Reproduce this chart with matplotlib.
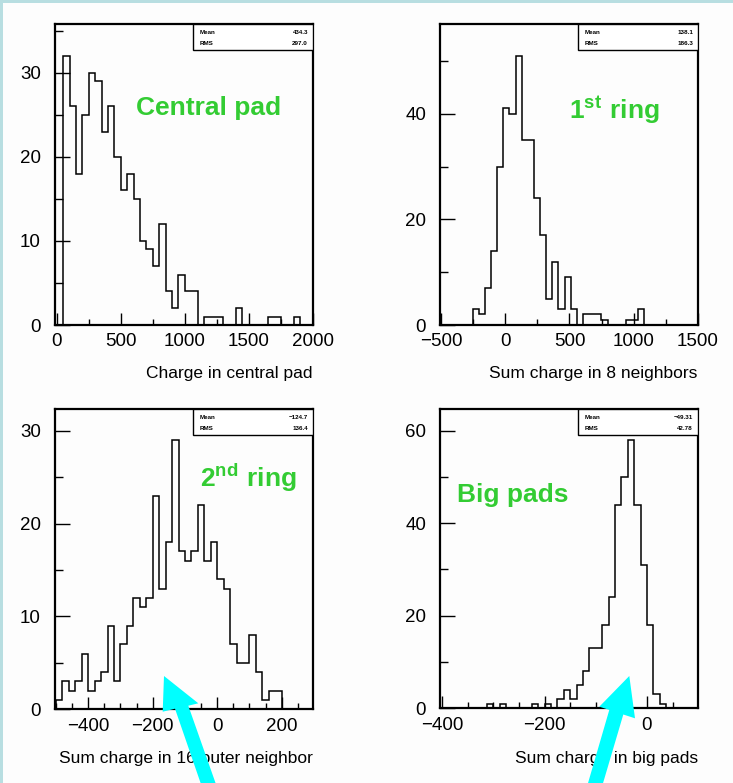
import matplotlib
matplotlib.use("Agg")
import matplotlib.pyplot as plt
import numpy as np
from matplotlib.ticker import MultipleLocator, FuncFormatter
from matplotlib.patches import Polygon, Rectangle

plt.rcParams['font.family'] = ['Liberation Sans', 'DejaVu Sans']
plt.rcParams['mathtext.fontset'] = 'custom'
plt.rcParams['mathtext.rm'] = 'Liberation Sans'
plt.rcParams['mathtext.bf'] = 'Liberation Sans:bold'

W, H = 733, 783
GREEN = '#33CC33'
CYAN = '#00FFFF'

# --- data ---
central_edges = np.arange(0, 2001, 50)
central_counts = [0, 32, 26, 18, 25, 30, 29, 23, 26, 20,
                  16, 18, 15, 10, 9, 7, 12, 4, 2, 6,
                  4, 4, 0, 1, 1, 1, 0, 0, 2, 0,
                  0, 0, 0, 1, 1, 0, 0, 1, 0, 0]

ring1_edges = -255 + 47.8 * np.arange(29)
ring1_counts = [3, 2, 7, 14, 30, 41, 40, 51, 35, 35,
                24, 17, 5, 12, 3, 9, 3, 0, 2, 2,
                2, 1, 0, 0, 0, 1, 1, 3]

ring2_edges = np.arange(-500, 301, 20)
ring2_counts = [1, 3, 2, 3, 6, 2, 3, 4, 9, 3,
                7, 9, 12, 11, 12, 23, 13, 18, 29, 17,
                16, 17, 22, 16, 18, 14, 13, 7, 5, 5,
                8, 4, 1, 2, 2, 0, 0, 0, 0, 0]

big_edges = np.arange(-400, 100.1, 12.5)
big_counts = [0, 0, 0, 0, 0, 0, 0, 1, 0, 1,
              0, 0, 0, 0, 1, 0, 1, 0, 2, 4,
              2, 5, 8, 13, 13, 18, 24, 44, 50, 58,
              44, 31, 18, 3, 1, 0, 0, 0, 0, 0]

stats = [("434.3", "297.0"), ("138.1", "186.3"), ("\u2212124.7", "136.4"), ("\u221249.31", "42.78")]
xtitles = ["Charge in central pad", "Sum charge in 8 neighbors",
           "Sum charge in 16 outer neighbor", "Sum charge in big pads"]


def px_rect(x0, y0, x1, y1):
    return [x0 / W, 1 - y1 / H, (x1 - x0) / W, (y1 - y0) / H]


def draw_panel(ax, edges, counts, xlim, ylim, xmaj, xmin, ymaj, ymin, st):
    ax.stairs(counts, edges, color='black', lw=1.1, baseline=0)
    ax.set_xlim(*xlim)
    ax.set_ylim(*ylim)
    ax.xaxis.set_major_locator(MultipleLocator(xmaj))
    ax.xaxis.set_minor_locator(MultipleLocator(xmin))
    ax.yaxis.set_major_locator(MultipleLocator(ymaj))
    ax.yaxis.set_minor_locator(MultipleLocator(ymin))
    ax.tick_params(axis='both', which='both', direction='in', top=False, right=False, width=1)
    ax.tick_params(axis='y', which='major', length=10.5, pad=10, labelsize=13.5)
    ax.tick_params(axis='y', which='minor', length=5.5)
    ax.tick_params(axis='x', which='major', length=8.5, pad=6, labelsize=13.5)
    ax.tick_params(axis='x', which='minor', length=4.3)
    ax.xaxis.set_major_formatter(FuncFormatter(
        lambda v, p: ('\u2212%d' % -v) if v < 0 else '%d' % v))
    for s in ax.spines.values():
        s.set_linewidth(1.6)
    ax.set_facecolor('#FDFDFD')
    ax.add_patch(Rectangle((0.535, 0.914), 0.465, 0.086, transform=ax.transAxes,
                           facecolor='white', edgecolor='black', lw=1, zorder=5))
    ax.text(0.56, 0.973, "Mean", transform=ax.transAxes, fontsize=4.5, weight='bold',
            va='center', ha='left', zorder=6)
    ax.text(0.982, 0.973, st[0], transform=ax.transAxes, fontsize=4.5, weight='bold',
            va='center', ha='right', zorder=6)
    ax.text(0.56, 0.936, "RMS", transform=ax.transAxes, fontsize=4.5, weight='bold',
            va='center', ha='left', zorder=6)
    ax.text(0.982, 0.936, st[1], transform=ax.transAxes, fontsize=4.5, weight='bold',
            va='center', ha='right', zorder=6)


fig = plt.figure(figsize=(W / 100, H / 100), dpi=100, facecolor='#FDFDFD')

ax1 = fig.add_axes(px_rect(54.7, 24, 312.7, 325))
ax2 = fig.add_axes(px_rect(440, 24, 697.7, 325))
ax3 = fig.add_axes(px_rect(54.7, 409.3, 312.7, 709.3))
ax4 = fig.add_axes(px_rect(440, 409.3, 697.7, 708.3))

draw_panel(ax1, central_edges, central_counts, (-16, 2000), (0, 35.8), 500, 250, 10, 5, stats[0])
draw_panel(ax2, ring1_edges, ring1_counts, (-510, 1500), (0, 57), 500, 250, 20, 10, stats[1])
draw_panel(ax3, ring2_edges, ring2_counts, (-504, 296), (0, 32.3), 200, 50, 10, 5, stats[2])
draw_panel(ax4, big_edges, big_counts, (-404, 99), (0, 64.6), 200, 50, 20, 10, stats[3])

# overlay in pixel coordinates for labels, border and arrows
ov = fig.add_axes([0, 0, 1, 1], zorder=10)
ov.set_xlim(0, W)
ov.set_ylim(H, 0)
ov.axis('off')
ov.patch.set_alpha(0)

ov.add_patch(Rectangle((0, 0), W, 3.3, color='#B8DEE1', lw=0))
ov.add_patch(Rectangle((0, 0), 3.3, H, color='#B8DEE1', lw=0))

ov.text(312.7, 373.5, xtitles[0], ha='right', va='center', fontsize=12.5)
ov.text(697.7, 373.5, xtitles[1], ha='right', va='center', fontsize=12.5)
ov.text(312.7, 758, xtitles[2], ha='right', va='center', fontsize=12.5)
ov.text(697.7, 758, xtitles[3], ha='right', va='center', fontsize=12.5)

ov.text(209, 115, "Central pad", ha='center', va='baseline', fontsize=19,
        weight='bold', color=GREEN)
ov.text(569, 118.5, r"$\mathbf{1^{st}\ ring}$", ha='left', va='baseline', fontsize=19,
        color=GREEN)
ov.text(200, 486.7, r"$\mathbf{2^{nd}\ ring}$", ha='left', va='baseline', fontsize=19,
        color=GREEN)
ov.text(457, 501.7, "Big pads", ha='left', va='baseline', fontsize=19,
        weight='bold', color=GREEN)

# arrows sit on top of the axis titles, as in the slide
arrow1 = [(164, 676), (198.3, 703.3), (188.3, 705.7), (218, 790), (203, 790),
          (175, 708.7), (162.7, 711.7)]
arrow2 = [(629.3, 676), (635, 718.3), (623.3, 714.5), (601, 790), (586, 790),
          (609.3, 709.9), (599.3, 706.7)]
ov.add_patch(Polygon(arrow1, closed=True, color=CYAN, lw=0, zorder=8))
ov.add_patch(Polygon(arrow2, closed=True, color=CYAN, lw=0, zorder=8))

fig.savefig("out.png", dpi=100, facecolor=fig.get_facecolor())
